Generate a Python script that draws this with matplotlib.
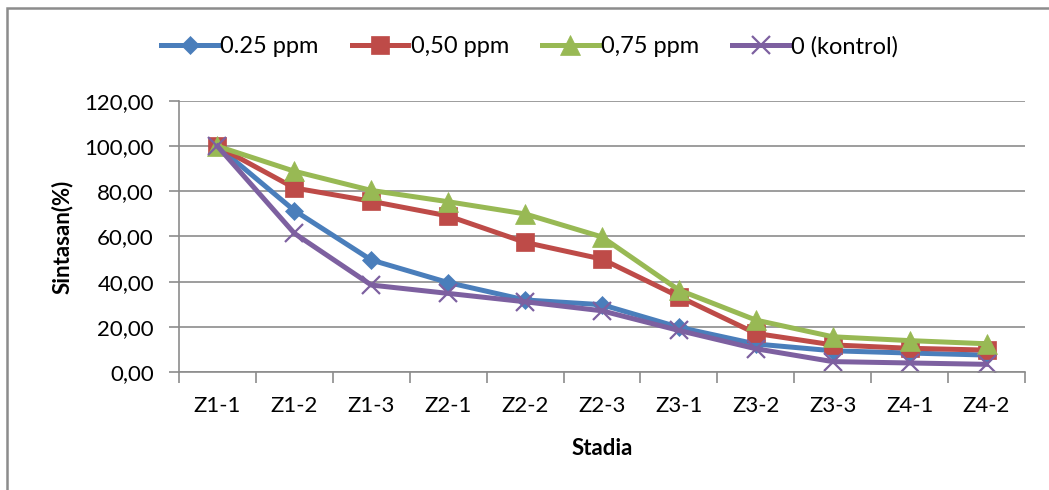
import matplotlib
matplotlib.use('Agg')
import matplotlib.pyplot as plt
from matplotlib.patches import Rectangle
import numpy as np

stadia = ['Z1-1', 'Z1-2', 'Z1-3', 'Z2-1', 'Z2-2', 'Z2-3', 'Z3-1', 'Z3-2', 'Z3-3', 'Z4-1', 'Z4-2']
ppm_025 = [100.0, 71.5, 49.6, 39.6, 31.9, 29.8, 19.8, 12.4, 9.4, 8.4, 7.5]
ppm_050 = [100.0, 81.5, 75.6, 69.1, 57.4, 50.0, 33.4, 17.1, 12.0, 10.5, 9.7]
ppm_075 = [100.0, 88.9, 80.4, 75.4, 70.0, 59.8, 36.3, 23.0, 15.6, 13.9, 12.5]
kontrol = [100.0, 61.4, 38.5, 34.8, 31.1, 27.1, 18.4, 10.3, 4.6, 4.0, 3.4]

plt.rcParams['font.family'] = ['Lato', 'DejaVu Sans']

fig = plt.figure(figsize=(10.49, 4.90), dpi=100)
# chart area border (bottom and right run past the picture edge)
fig.patches.append(Rectangle((7 / 1049, -0.1), 1.1, 1.1 - 8 / 490, transform=fig.transFigure,
                             fill=False, edgecolor='#8c8c8c', linewidth=1.8))
ax = fig.add_axes([179 / 1049, 118 / 490, 846 / 1049, 271 / 490])

x = np.arange(len(stadia))
series = [
    (ppm_025, '0.25 ppm', '#4A7EBB', 'D', 9.5),
    (ppm_050, '0,50 ppm', '#BE4B48', 's', 13),
    (ppm_075, '0,75 ppm', '#98B954', '^', 14),
    (kontrol, '0 (kontrol)', '#7D60A0', 'x', 13),
]
for vals, lab, col, mk, ms in series:
    ax.plot(x, vals, color=col, linewidth=3.6, marker=mk, markersize=ms,
            markeredgewidth=1.6 if mk == 'x' else 0.5, markeredgecolor=col, label=lab)

ax.set_xlim(-0.5, len(stadia) - 0.5)
ax.set_ylim(0, 120)
ax.set_yticks(np.arange(0, 121, 20))
ax.set_yticklabels([f'{v:.2f}'.replace('.', ',') for v in np.arange(0, 121, 20)], fontsize=16)
ax.yaxis.grid(True, color='#8c8c8c', linewidth=1.2)
ax.set_axisbelow(True)

ax.set_xticks(x)
ax.set_xticklabels(stadia, fontsize=16)
ax.tick_params(axis='x', which='major', length=0, pad=17)
ax.set_xticks(np.arange(-0.5, len(stadia), 1), minor=True)
ax.tick_params(axis='x', which='minor', length=8, width=1.2, color='#8c8c8c')
ax.tick_params(axis='y', length=7, width=1.2, color='#8c8c8c', pad=11)

for s in ['top', 'right']:
    ax.spines[s].set_visible(False)
for s in ['left', 'bottom']:
    ax.spines[s].set_color('#8c8c8c')
    ax.spines[s].set_linewidth(1.2)

ax.set_ylabel('Sintasan(%)', fontsize=16, fontweight='bold', labelpad=8)
ax.set_xlabel('Stadia', fontsize=16, fontweight='bold', labelpad=16)

leg = fig.legend(loc='center', bbox_to_anchor=(0.505, 0.905), ncol=4, frameon=False,
                 fontsize=17, handlelength=2.4, handletextpad=0.1, columnspacing=1.4)

fig.savefig('out.png', dpi=100)
